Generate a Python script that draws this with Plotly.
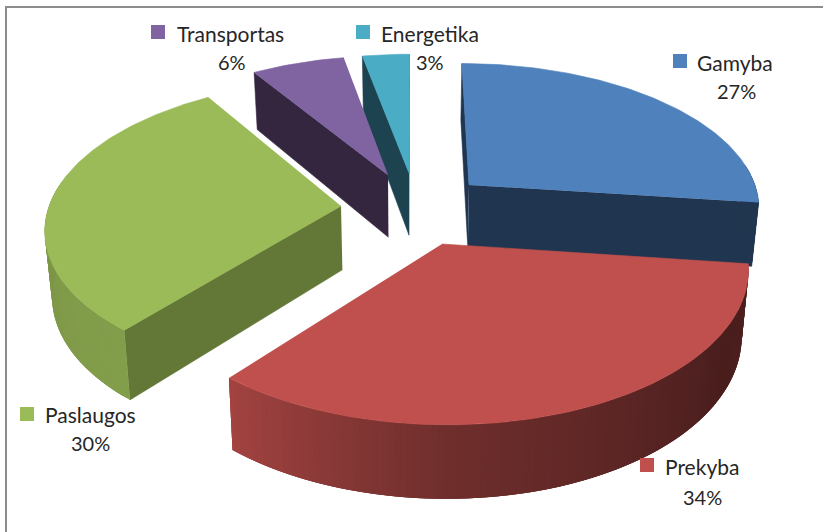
import numpy as np
import plotly.graph_objects as go

# --- data ---
categories = ["Gamyba", "Prekyba", "Paslaugos", "Transportas", "Energetika"]
values = [27, 34, 30, 6, 3]
colors = ["#4F81BD", "#C0504D", "#9BBB59", "#8064A2", "#4BACC6"]
face_colors = ["#1F3550", "#4E1F1E", "#637837", "#35263F", "#1D4350"]

# --- pie projection settings (screen position of each exploded slice's tip) ---
tips = [(469, 185), (442, 244), (341, 206), (388, 175), (409, 173)]
VX, VY, BX, AY, P, DEPTH, PZ, SHRINK = 410, 210, 293, 145, 0.14, 64, 0.11, 0.02
draw_order = [4, 3, 0, 2, 1]

# --- label layout: key square (x, y), name left x / y, percent centre x / y ---
label_pos = {
    "Gamyba": (680, 61, 695, 62, 736, 91),
    "Prekyba": (647, 465, 663, 466, 702, 497),
    "Paslaugos": (27, 414, 43, 414, 90, 443),
    "Transportas": (158, 32, 175, 33, 232, 62),
    "Energetika": (363, 32, 379, 33, 430, 62),
}


def to_world(px, py):
    u = py - VY
    yw = u / (AY + P * u)
    xw = (px - VX) * (1 - P * yw) / BX
    return xw, yw


def project(xw, yw, bottom=False):
    d = 1 - P * yw
    sx = VX + BX * xw / d
    sy = VY + AY * yw / d
    if bottom:
        sx = VX + (sx - VX) * (1 - SHRINK)
        sy = sy + DEPTH / (1 - PZ * yw)
    return sx, sy


def side_shade(theta_deg):
    return np.interp(theta_deg, [97, 120, 180, 220, 270, 360],
                     [0.42, 0.38, 0.58, 0.85, 0.80, 0.80])


def scale_colour(hex_colour, f):
    r, g, b = (int(hex_colour[i:i + 2], 16) for i in (1, 3, 5))
    return f"rgb({int(r * f)},{int(g * f)},{int(b * f)})"


def polygon(xs, ys, colour, width=0.6):
    return go.Scatter(x=list(xs), y=list(ys), mode="lines", fill="toself",
                      fillcolor=colour, line=dict(color=colour, width=width),
                      hoverinfo="skip", showlegend=False)


fractions = np.array(values) / sum(values)
bounds = np.concatenate([[0], np.cumsum(fractions)]) * 360
fig = go.Figure()

for i in draw_order:
    t0, t1 = bounds[i], bounds[i + 1]
    xa, ya = to_world(*tips[i])
    th = np.radians(np.linspace(t0, t1, max(int(t1 - t0), 6) + 1))
    wx = xa + np.sin(th)
    wy = ya - np.cos(th)
    topx, topy = project(wx, wy)
    botx, boty = project(wx, wy, True)
    ax_t, ay_t = project(xa, ya)
    ax_b, ay_b = project(xa, ya, True)

    # radial cut faces, drawn only when they turn towards the viewer
    for k, sign in ((0, 1), (-1, -1)):
        qx = [ax_t, topx[k], botx[k], ax_b]
        qy = [ay_t, topy[k], boty[k], ay_b]
        area = sum(qx[j] * qy[(j + 1) % 4] - qx[(j + 1) % 4] * qy[j] for j in range(4))
        if area * sign < 0:
            fig.add_trace(polygon(qx, qy, face_colors[i]))

    # curved outer wall, shaded strip by strip; strips overlap the next one to avoid seams
    n = len(th)
    for j in range(n - 1):
        mid = np.degrees((th[j] + th[j + 1]) / 2)
        if np.cos(np.radians(mid)) < 0.15:
            e = min(j + 3, n - 1)
            fig.add_trace(polygon(
                [topx[j], *topx[j + 1:e + 1], *botx[j + 1:e + 1][::-1], botx[j]],
                [topy[j], *topy[j + 1:e + 1], *boty[j + 1:e + 1][::-1], boty[j]],
                scale_colour(colors[i], side_shade(mid)), width=0))

    # top face
    fig.add_trace(polygon([ax_t, *topx], [ay_t, *topy], colors[i]))

# legend keys and labels
annotations = []
for name, val, col in zip(categories, values, colors):
    kx, ky, tx, ty, px, py = label_pos[name]
    fig.add_trace(go.Scatter(x=[kx], y=[ky], mode="markers", hoverinfo="skip", showlegend=False,
                             marker=dict(symbol="square", size=14, color=col)))
    annotations.append(dict(x=tx, y=ty, text=name, xanchor="left", yanchor="middle", showarrow=False,
                            font=dict(size=21)))
    annotations.append(dict(x=px, y=py, text=f"{val}%", xanchor="center", yanchor="middle", showarrow=False,
                            font=dict(size=20)))

fig.update_layout(
    width=823, height=532, margin=dict(l=0, r=0, t=0, b=0),
    paper_bgcolor="white", plot_bgcolor="white", showlegend=False,
    font=dict(family="Lato, Noto Sans, sans-serif", size=20, color="#262626"),
    xaxis=dict(range=[0, 823], visible=False, fixedrange=True),
    yaxis=dict(range=[532, 0], visible=False, fixedrange=True),
    annotations=annotations,
    shapes=[
        dict(type="line", xref="paper", yref="paper", x0=6 / 823, x1=6 / 823, y0=0, y1=1 - 6 / 532,
             line=dict(color="#8C8C8C", width=2)),
        dict(type="line", xref="paper", yref="paper", x0=6 / 823, x1=1, y0=1 - 7 / 532, y1=1 - 7 / 532,
             line=dict(color="#8C8C8C", width=2)),
    ],
)

fig.write_html("out.html", config={"displayModeBar": False},
               post_script="document.body.style.margin='0';")
